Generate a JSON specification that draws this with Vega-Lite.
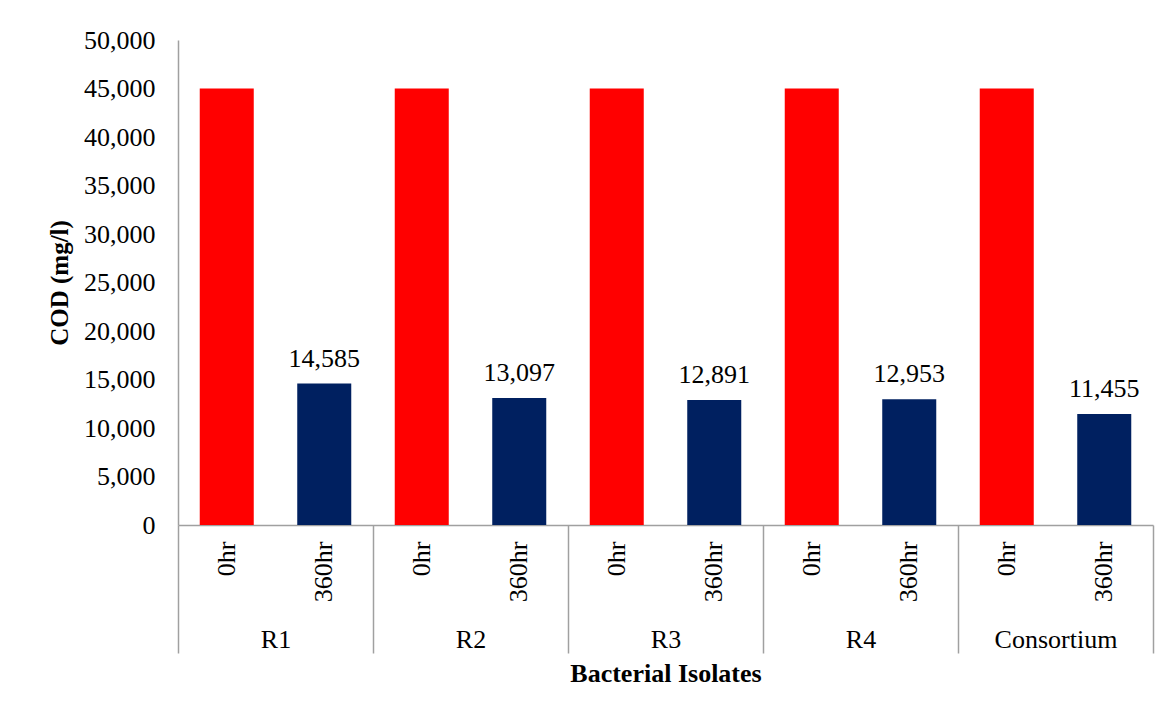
{
  "$schema": "https://vega.github.io/schema/vega-lite/v6.json",
  "width": 975,
  "height": 485,
  "autosize": {"type": "none"},
  "padding": {"left": 178, "top": 40, "right": 17, "bottom": 188},
  "background": "white",
  "config": {
    "font": "Liberation Serif",
    "view": {"stroke": null},
    "axis": {"labelColor": "black", "titleColor": "black", "labelFont": "Liberation Serif", "titleFont": "Liberation Serif"}
  },
  "data": {
    "values": [
      {"id": "R1|0hr", "group": "R1", "time": "0hr", "cod": 45000},
      {"id": "R1|360hr", "group": "R1", "time": "360hr", "cod": 14585},
      {"id": "R2|0hr", "group": "R2", "time": "0hr", "cod": 45000},
      {"id": "R2|360hr", "group": "R2", "time": "360hr", "cod": 13097},
      {"id": "R3|0hr", "group": "R3", "time": "0hr", "cod": 45000},
      {"id": "R3|360hr", "group": "R3", "time": "360hr", "cod": 12891},
      {"id": "R4|0hr", "group": "R4", "time": "0hr", "cod": 45000},
      {"id": "R4|360hr", "group": "R4", "time": "360hr", "cod": 12953},
      {"id": "Consortium|0hr", "group": "Consortium", "time": "0hr", "cod": 45000},
      {"id": "Consortium|360hr", "group": "Consortium", "time": "360hr", "cod": 11455}
    ]
  },
  "encoding": {
    "y": {
      "field": "cod",
      "type": "quantitative",
      "scale": {"domain": [0, 50000], "nice": false, "zero": true},
      "axis": {
        "values": [0, 5000, 10000, 15000, 20000, 25000, 30000, 35000, 40000, 45000, 50000],
        "labelExpr": "format(datum.value, ',')",
        "grid": false,
        "ticks": false,
        "domain": true,
        "domainColor": "#a0a0a0",
        "domainWidth": 1.5,
        "labelFontSize": 26,
        "labelPadding": 23,
        "title": "COD (mg/l)",
        "titleFontSize": 25,
        "titleFontWeight": "bold",
        "titleAngle": 270,
        "titleBaseline": "alphabetic",
        "titleX": -111,
        "titleY": 242.5,
        "titleAnchor": "middle"
      }
    }
  },
  "layer": [
    {
      "encoding": {
        "x": {
          "field": "id",
          "type": "nominal",
          "sort": null,
          "scale": {"paddingInner": 0.446, "paddingOuter": 0.223},
          "axis": {
            "orient": "bottom",
            "title": null,
            "domain": false,
            "ticks": false,
            "labelAngle": 270,
            "labelAlign": "right",
            "labelBaseline": "middle",
            "labelPadding": 16,
            "labelFontSize": 26,
            "labelExpr": "split(datum.label, '|')[1]"
          }
        }
      },
      "layer": [
        {
          "mark": {"type": "bar"},
          "encoding": {
            "color": {
              "field": "time",
              "type": "nominal",
              "scale": {"domain": ["0hr", "360hr"], "range": ["#ff0000", "#002060"]},
              "legend": null
            }
          }
        },
        {
          "transform": [{"filter": "datum.time == '360hr'"}],
          "mark": {"type": "text", "fontSize": 26, "baseline": "alphabetic", "dy": -17, "color": "black"},
          "encoding": {
            "text": {"field": "cod", "type": "quantitative", "format": ","}
          }
        }
      ]
    },
    {
      "mark": {"type": "text", "opacity": 0},
      "encoding": {
        "x": {
          "field": "group",
          "type": "nominal",
          "sort": null,
          "scale": {"paddingInner": 0, "paddingOuter": 0},
          "axis": {
            "orient": "bottom",
            "domain": true,
            "domainColor": "#a0a0a0",
            "domainWidth": 1.5,
            "ticks": true,
            "tickBand": "extent",
            "tickSize": 128,
            "tickColor": "#a0a0a0",
            "tickWidth": 1.5,
            "labelAngle": 0,
            "labelAlign": "center",
            "labelBaseline": "alphabetic",
            "labelPadding": -6,
            "labelFontSize": 26,
            "title": "Bacterial Isolates",
            "titleFontSize": 26,
            "titleFontWeight": "bold",
            "titleBaseline": "alphabetic",
            "titleY": 156,
            "titleAnchor": "middle"
          }
        },
        "text": {"field": "group", "type": "nominal"}
      }
    }
  ],
  "resolve": {"scale": {"x": "independent"}, "axis": {"x": "independent"}}
}
